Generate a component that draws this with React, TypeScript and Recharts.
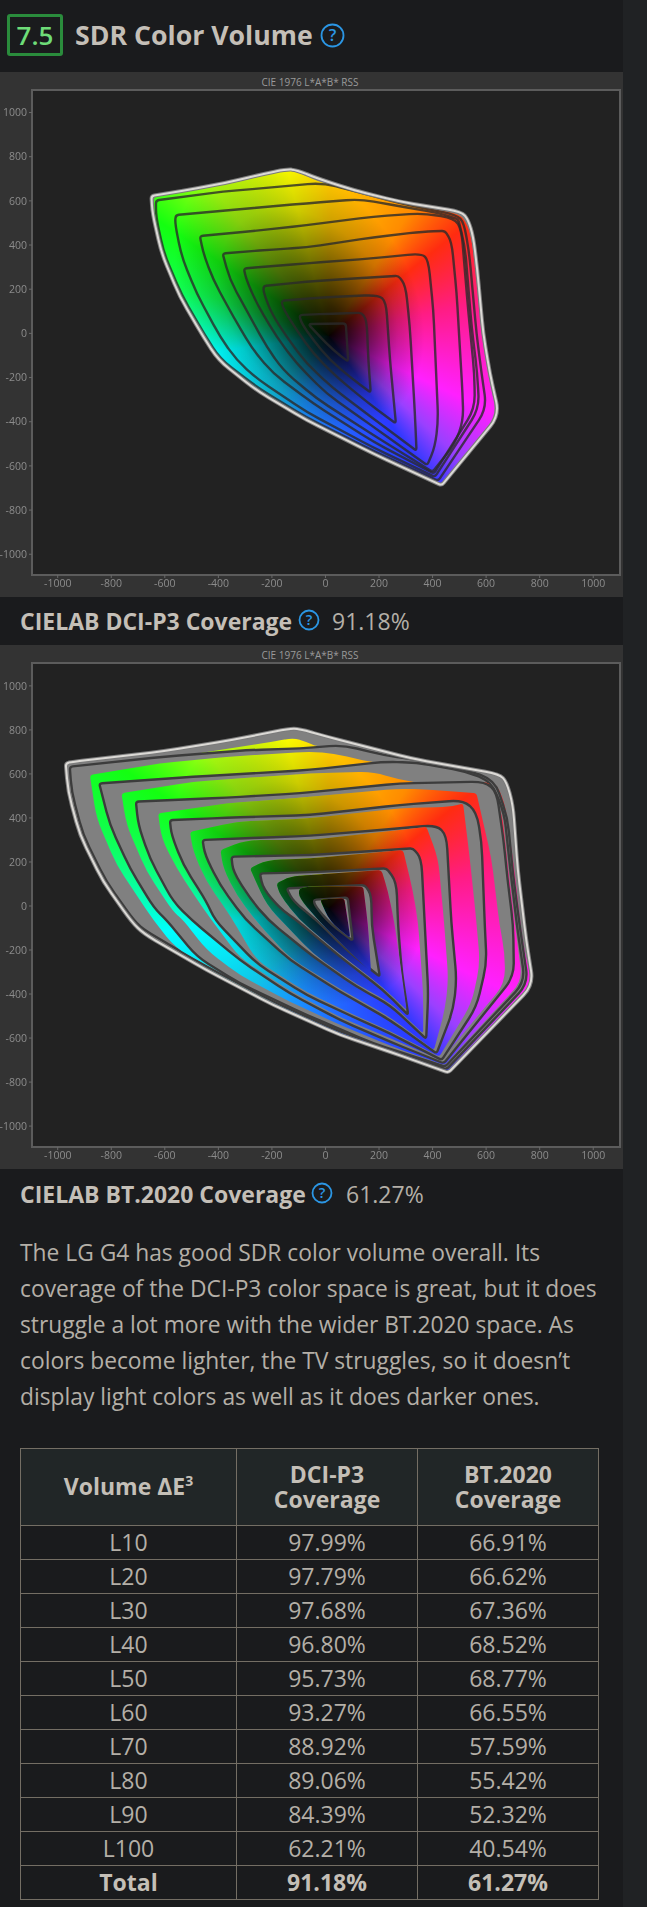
import { CartesianGrid, ReferenceArea, Scatter, ScatterChart, XAxis, YAxis } from "recharts";

type Pt = [number, number];

// a*, b* outlines (CIELAB DCI-P3), outer L100 to inner L10
const p3L100: Pt[] = [[-650,622],[-531,646],[-369,682],[-232,722],[-145,743],[-108,740],[-33,703],[104,649],[278,596],[508,551],[533,514],[552,438],[567,287],[589,0],[614,-182],[649,-371],[434,-688],[179,-545],[-70,-393],[-257,-258],[-400,-121],[-456,-15],[-544,166],[-612,362],[-646,544]];
const p3L90: Pt[] = [[-633,602],[-382,642],[-170,664],[-14,682],[104,646],[278,589],[490,536],[517,502],[537,362],[564,0],[583,-182],[602,-340],[421,-668],[179,-532],[-70,-381],[-257,-242],[-394,-115],[-450,-8],[-537,174],[-603,362],[-633,529]];
const p3L80: Pt[] = [[-559,536],[-320,562],[-71,589],[129,608],[253,581],[428,544],[496,517],[521,392],[546,29],[567,-182],[574,-340],[409,-650],[179,-517],[-70,-356],[-257,-204],[-332,-121],[-394,-15],[-481,181],[-537,347],[-562,498]];
const p3L70: Pt[] = [[-469,441],[-257,465],[-71,490],[179,529],[365,544],[483,521],[508,468],[533,105],[556,-182],[558,-340],[405,-635],[179,-491],[-46,-317],[-195,-182],[-270,-76],[-344,75],[-419,242],[-456,362]];
const p3L60: Pt[] = [[-384,362],[-195,380],[-71,389],[179,435],[365,461],[446,464],[471,416],[490,181],[512,-273],[515,-393],[484,-499],[400,-627],[179,-461],[-33,-295],[-158,-167],[-220,-60],[-295,105],[-357,242]];
const p3L50: Pt[] = [[-305,294],[-71,317],[179,340],[359,362],[384,332],[403,105],[421,-393],[409,-514],[380,-597],[179,-423],[4,-273],[-108,-136],[-183,-15],[-257,136],[-295,242]];
const p3L40: Pt[] = [[-232,214],[-71,234],[116,249],[272,261],[299,218],[315,31],[334,-363],[340,-532],[179,-386],[29,-249],[-71,-136],[-145,-15],[-201,90],[-230,181]];
const p3L30: Pt[] = [[-164,148],[-8,163],[197,174],[226,144],[241,-121],[263,-408],[154,-310],[42,-197],[-46,-91],[-108,15],[-158,113]];
const p3L20: Pt[] = [[-98,83],[29,90],[135,93],[154,60],[160,-121],[169,-268],[91,-197],[17,-121],[-46,-30],[-89,45]];
const p3L10: Pt[] = [[-64,42],[76,45],[85,-128],[29,-76],[-21,-15]];
const p3Measured: Pt[] = [[-640,618],[-531,640],[-369,676],[-232,715],[-145,738],[-108,732],[-33,690],[104,640],[278,590],[500,540],[525,505],[545,435],[560,285],[582,0],[606,-182],[640,-368],[434,-684],[179,-542],[-70,-390],[-257,-255],[-400,-118],[-452,-15],[-540,166],[-606,362],[-640,544]];

// second plot (CIELAB BT.2020): target outlines
const bt2020L100: Pt[] = [[-970,648],[-946,655],[-599,704],[-353,753],[-137,805],[-99,805],[2,770],[325,669],[649,599],[676,564],[700,460],[718,164],[749,-150],[776,-359],[459,-757],[240,-662],[54,-586],[-195,-450],[-444,-291],[-680,-125],[-724,-71],[-830,110],[-917,322],[-961,519]];
const bt2020L90: Pt[] = [[-955,633],[-599,679],[-291,708],[-96,716],[66,731],[215,686],[340,664],[527,618],[632,572],[680,400],[700,150],[725,-86],[757,-352],[452,-742],[240,-647],[54,-571],[-195,-435],[-444,-276],[-672,-112],[-712,-71],[-818,110],[-905,322],[-948,519]];
const bt2020L80: Pt[] = [[-845,557],[-494,587],[-58,618],[215,655],[340,652],[527,610],[620,565],[668,420],[690,170],[715,-86],[745,-345],[447,-730],[178,-624],[-70,-495],[-320,-352],[-481,-230],[-593,-64],[-640,-10],[-730,171],[-805,368]];
const bt2020L70: Pt[] = [[-708,474],[-370,492],[-96,512],[278,557],[595,565],[639,519],[665,300],[680,120],[701,-86],[704,-321],[442,-715],[241,-617],[54,-518],[-133,-397],[-320,-246],[-500,-64],[-569,20],[-656,216],[-699,368]];
const bt2020L60: Pt[] = [[-581,390],[-370,401],[-58,413],[278,459],[514,481],[564,428],[583,292],[595,-86],[602,-261],[564,-458],[434,-700],[241,-579],[116,-511],[-70,-405],[-257,-261],[-413,-64],[-444,20],[-531,186],[-575,322]];
const bt2020L50: Pt[] = [[-459,300],[-245,310],[-58,319],[278,353],[414,368],[452,322],[470,-75],[490,-336],[477,-473],[415,-670],[241,-518],[54,-389],[-133,-246],[-300,-60],[-394,95],[-450,232]];
const bt2020L40: Pt[] = [[-351,224],[-58,231],[327,262],[358,216],[371,-86],[384,-397],[376,-604],[241,-450],[116,-367],[-46,-230],[-214,-64],[-282,35],[-345,156]];
const bt2020L30: Pt[] = [[-245,148],[-58,153],[228,171],[265,110],[271,-86],[285,-300],[309,-495],[216,-382],[54,-230],[-108,-64],[-170,-11],[-233,80]];
const bt2020L20: Pt[] = [[-145,80],[147,95],[172,50],[172,-86],[203,-321],[79,-200],[-33,-64],[-120,20]];
const bt2020L10: Pt[] = [[-45,28],[83,38],[102,-158],[17,-80],[-37,-2]];

// second plot: edge of the coloured part inside each target outline
const measuredL100: Pt[] = [[-531,683],[-183,749],[-120,764],[-71,746],[-30,722],[66,728],[215,683],[340,662],[527,615],[632,570],[670,470],[705,170],[735,-150],[770,-350],[459,-752],[240,-655],[54,-580],[-195,-445],[-444,-288],[-531,-215]];
const measuredL90: Pt[] = [[-880,595],[-619,648],[-370,678],[-58,701],[29,693],[190,648],[340,652],[527,606],[615,560],[662,420],[683,170],[708,-86],[738,-345],[448,-733],[240,-640],[54,-563],[-195,-426],[-444,-268],[-560,-190],[-643,-64],[-780,186],[-855,398]];
const measuredL80: Pt[] = [[-762,512],[-494,565],[-58,602],[178,610],[278,572],[464,542],[576,562],[610,560],[660,420],[682,170],[708,-86],[735,-340],[445,-722],[241,-635],[54,-540],[-133,-435],[-320,-314],[-444,-200],[-531,-64],[-569,-26],[-668,156],[-743,368]];
const measuredL70: Pt[] = [[-625,421],[-370,466],[-58,496],[278,534],[402,527],[564,512],[620,216],[650,-86],[670,-215],[670,-352],[432,-700],[241,-600],[54,-505],[-133,-385],[-320,-235],[-457,-11],[-556,171],[-612,307]];
const measuredL60: Pt[] = [[-506,337],[-332,383],[-58,398],[278,444],[464,451],[514,466],[539,216],[564,-75],[577,-261],[546,-442],[425,-685],[241,-568],[116,-500],[-70,-392],[-257,-248],[-357,-41],[-444,110],[-494,247]];
const measuredL50: Pt[] = [[-392,254],[-295,300],[-58,300],[278,345],[377,360],[421,216],[443,-75],[459,-336],[446,-473],[405,-655],[241,-505],[54,-377],[-133,-235],[-257,-71],[-332,50],[-382,171]];
const measuredL40: Pt[] = [[-282,171],[-220,209],[-58,216],[290,254],[327,65],[346,-75],[365,-397],[365,-579],[241,-438],[116,-355],[-46,-218],[-220,4]];
const measuredL30: Pt[] = [[-183,103],[-133,133],[-58,141],[209,163],[234,65],[259,-86],[303,-473],[216,-370],[54,-218],[-100,-60],[-170,50]];
const measuredL20: Pt[] = [[-98,79],[-50,90],[141,87],[159,-86],[170,-300],[75,-190],[-35,-55],[-100,40]];
const measuredL10: Pt[] = [[-20,30],[70,35],[85,-80],[92,-145],[15,-70]];

const fieldCentre: Pt = [15, -10];

const xTicks = [-1000, -800, -600, -400, -200, 0, 200, 400, 600, 800, 1000];
const yTicks = [1000, 800, 600, 400, 200, 0, -200, -400, -600, -800, -1000];

const p3Rings = [p3L100, p3L90, p3L80, p3L70, p3L60, p3L50, p3L40, p3L30, p3L20, p3L10];
const p3Gamuts = [p3Measured];
const bt2020Rings = [bt2020L100, bt2020L90, bt2020L80, bt2020L70, bt2020L60, bt2020L50, bt2020L40, bt2020L30, bt2020L20, bt2020L10];
const bt2020Gamuts = [measuredL100, measuredL90, measuredL80, measuredL70, measuredL60, measuredL50, measuredL40, measuredL30, measuredL20, measuredL10];

const volumeLabels = ["L10", "L20", "L30", "L40", "L50", "L60", "L70", "L80", "L90", "L100"];
const dciP3Values = ["97.99%", "97.79%", "97.68%", "96.80%", "95.73%", "93.27%", "88.92%", "89.06%", "84.39%", "62.21%"];
const bt2020Values = ["66.91%", "66.62%", "67.36%", "68.52%", "68.77%", "66.55%", "57.59%", "55.42%", "52.32%", "40.54%"];
const totals = ["Total", "91.18%", "61.27%"];

const paragraphLines = [
  "The LG G4 has good SDR color volume overall. Its",
  "coverage of the DCI-P3 color space is great, but it does",
  "struggle a lot more with the wider BT.2020 space. As",
  "colors become lighter, the TV struggles, so it doesn\u2019t",
  "display light colors as well as it does darker ones.",
];

const FONT = "'Open Sans', sans-serif";
const PAGE = "#1a1b1d";
const TEXT = "#c4bfb7";
const HUES =
  "#ffc800 0deg, #ff8c00 33deg, #ff2c10 51deg, #ff1c84 77deg, #ff20ff 115deg, #9a40ff 133deg, #2c38ff 145deg, #1a90ff 198deg, #10c4e8 225deg, #00ffff 262deg, #10ff50 288deg, #14ff10 304deg, #a8ff10 322deg, #ffff00 346deg, #ffc800 360deg";

const toPoints = (ring: Pt[]) => ring.map(([a, b]) => ({ a, b }));
const hidePoint = () => <g />;

// closed path through the scaled points with the corners eased, tips stay tight
const ringPath = (points: { x: number; y: number }[]) => {
  const n = points.length;
  let d = "";
  points.forEach((p, i) => {
    const prev = points[(i + n - 1) % n];
    const next = points[(i + 1) % n];
    const ux = prev.x - p.x;
    const uy = prev.y - p.y;
    const vx = next.x - p.x;
    const vy = next.y - p.y;
    const lu = Math.hypot(ux, uy) || 1;
    const lv = Math.hypot(vx, vy) || 1;
    const cos = (ux * vx + uy * vy) / (lu * lv);
    const r = cos > -0.6 ? 3 : 14;
    const ru = Math.min(r, lu * 0.48);
    const rv = Math.min(r, lv * 0.48);
    d += `${i === 0 ? "M" : "L"}${p.x + (ux / lu) * ru} ${p.y + (uy / lu) * ru}Q${p.x} ${p.y} ${p.x + (vx / lv) * rv} ${p.y + (vy / lv) * rv}`;
  });
  return d + "Z";
};

// closed outline; Scatter hands us the points already run through the scales
const outline = (stroke: string, width: number, fill = "none") => (props: any) => (
  <path d={ringPath(props.points)} fill={fill} stroke={stroke} strokeWidth={width} strokeLinejoin="round" />
);

const clipDef = (id: string) => (props: any) => (
  <clipPath id={id}>
    <path d={ringPath(props.points)} />
  </clipPath>
);

// hue wheel with the darkening towards the neutral centre, clipped to one outline
const colourField = (clip: string) => (props: any) => {
  const { cx, cy } = props;
  const R = 340;
  const dark = `${clip}-dark`;
  return (
    <g clipPath={`url(#${clip})`}>
      <foreignObject x={cx - R} y={cy - R} width={R * 2} height={R * 2}>
        <div style={{ width: R * 2, height: R * 2, background: `conic-gradient(from 0deg at 50% 50%, ${HUES})` }} />
      </foreignObject>
      <radialGradient
        id={dark}
        gradientUnits="userSpaceOnUse"
        cx={0}
        cy={0}
        r={150}
        fx={50}
        fy={0}
        gradientTransform={`translate(${cx - 30} ${cy - 40}) rotate(53) scale(1 0.72)`}
      >
        <stop offset="0" stopColor="#000" stopOpacity={0.97} />
        <stop offset="0.2" stopColor="#000" stopOpacity={0.8} />
        <stop offset="0.45" stopColor="#000" stopOpacity={0.52} />
        <stop offset="0.72" stopColor="#000" stopOpacity={0.2} />
        <stop offset="1" stopColor="#000" stopOpacity={0} />
      </radialGradient>
      <rect x={cx - R} y={cy - R} width={R * 2} height={R * 2} fill={`url(#${dark})`} />
    </g>
  );
};

function Plot({ name, rings, gamuts, filled, height, domainY }: { name: string; rings: Pt[][]; gamuts: Pt[][]; filled: boolean; height: number; domainY: [number, number] }) {
  const tickStyle = { fill: "#8c8c8c", fontSize: 10.5, fontFamily: FONT };
  const axisLine = { stroke: "#5c5c5c", strokeWidth: 2 };
  const tickLine = { stroke: "#6a6a6a" };
  return (
    <ScatterChart width={623} height={height} margin={{ top: 18, right: 3, bottom: 0, left: 0 }}>
      <CartesianGrid fill="#222222" fillOpacity={1} horizontal={false} vertical={false} />
      <XAxis type="number" dataKey="a" domain={[-1096, 1100]} ticks={xTicks} interval={0} height={22} tickSize={3} tickMargin={2} tick={tickStyle} axisLine={axisLine} tickLine={tickLine} />
      <YAxis type="number" dataKey="b" domain={domainY} ticks={yTicks} interval={0} width={32} tickSize={3} tickMargin={2} tick={tickStyle} axisLine={axisLine} tickLine={tickLine} />
      <ReferenceArea x1={-1096} x2={1100} y1={domainY[0]} y2={domainY[1]} fill="none" stroke="#5c5c5c" strokeWidth={2} />
      {rings.flatMap((ring, i) => {
        const clip = `${name}-clip-${i}`;
        const items = [];
        if (i === 0 || filled) {
          items.push(
            <Scatter key={`r${i}`} data={toPoints(ring)} line={outline("#3c3c3c", 2.4, "#808080")} shape={hidePoint} isAnimationActive={false} />,
          );
        }
        if (gamuts[i]) {
          items.push(
            <Scatter key={`c${i}`} data={toPoints(gamuts[i])} line={clipDef(clip)} shape={hidePoint} isAnimationActive={false} />,
            <Scatter key={`f${i}`} data={toPoints([fieldCentre])} shape={colourField(clip)} isAnimationActive={false} />,
          );
        }
        return items;
      })}
      {!filled &&
        rings.slice(1).map((ring, i) => (
          <Scatter key={`o${i}`} data={toPoints(ring)} line={outline("rgba(42,42,42,0.8)", 2.4)} shape={hidePoint} isAnimationActive={false} />
        ))}
      <Scatter key="outer-grey" data={toPoints(rings[0])} line={outline("#7c7c7c", 4)} shape={hidePoint} isAnimationActive={false} />
      <Scatter key="outer-white" data={toPoints(rings[0])} line={outline("#dcdad6", 2)} shape={hidePoint} isAnimationActive={false} />
    </ScatterChart>
  );
}

function HelpIcon({ x, y, r }: { x: number; y: number; r: number }) {
  return (
    <svg width={r * 2 + 2} height={r * 2 + 2} style={{ position: "absolute", left: x - r - 1, top: y - r - 1 }}>
      <circle cx={r + 1} cy={r + 1} r={r - 0.5} fill="none" stroke="#2b96e4" strokeWidth={1.8} />
      <text x={r + 1} y={r + 1 + r * 0.5} textAnchor="middle" fontFamily={FONT} fontWeight={600} fontSize={r * 1.45} fill="#2b96e4">?</text>
    </svg>
  );
}

function PlotTitle({ top }: { top: number }) {
  return (
    <div style={{ position: "absolute", left: 0, width: 620, top, textAlign: "center", font: `10px ${FONT}`, color: "#9a9a9a" }}>
      CIE 1976 L*A*B* RSS
    </div>
  );
}

function Caption({ top, label, value, iconX, valueX }: { top: number; label: string; value: string; iconX: number; valueX: number }) {
  return (
    <>
      <div style={{ position: "absolute", left: 20, top: top - 16, lineHeight: "32px", fontSize: 23, fontWeight: 700, color: TEXT, whiteSpace: "nowrap" }}>{label}</div>
      <HelpIcon x={iconX} y={top - 1} r={10} />
      <div style={{ position: "absolute", left: valueX, top: top - 16, lineHeight: "32px", fontSize: 23, color: "#b4afa7", whiteSpace: "nowrap" }}>{value}</div>
    </>
  );
}

const cell = { border: "1px solid #746e64", padding: 0, textAlign: "center" as const, color: "#b4afa7", fontSize: 23, height: 33, lineHeight: "33px" };
const headCell = { ...cell, background: "#212627", color: TEXT, fontWeight: 700, lineHeight: "25.5px", height: 76 };

export default function App() {
  return (
    <div style={{ position: "absolute", left: 0, top: 0, width: 647, height: 1907, background: "#202224", overflow: "hidden", fontFamily: FONT }}>
      <div style={{ position: "absolute", left: 0, top: 0, width: 623, height: 1907, background: PAGE }} />

      <div style={{ position: "absolute", left: 7, top: 14, width: 50, height: 36, border: "3px solid #2a8c3c", borderRadius: 3, textAlign: "center", lineHeight: "37px", fontSize: 26, fontWeight: 600, color: "#6edc78" }}>7.5</div>
      <div style={{ position: "absolute", left: 75, top: 14, lineHeight: "42px", fontSize: 26.7, fontWeight: 700, color: TEXT, whiteSpace: "nowrap" }}>SDR Color Volume</div>
      <HelpIcon x={332} y={35} r={11.5} />

      <div style={{ position: "absolute", left: 0, top: 72, width: 623, height: 525, background: "#333333", filter: "blur(0.4px)" }}>
        <Plot name="p3" rings={p3Rings} gamuts={p3Gamuts} filled={false} height={525} domainY={[-1094, 1102]} />
      </div>
      <PlotTitle top={75} />
      <Caption top={621} label="CIELAB DCI-P3 Coverage" value="91.18%" iconX={309} valueX={332} />

      <div style={{ position: "absolute", left: 0, top: 645, width: 623, height: 524, background: "#333333", filter: "blur(0.4px)" }}>
        <Plot name="bt" rings={bt2020Rings} gamuts={bt2020Gamuts} filled height={524} domainY={[-1095, 1104]} />
      </div>
      <PlotTitle top={648} />
      <Caption top={1194} label="CIELAB BT.2020 Coverage" value="61.27%" iconX={322} valueX={346} />

      {paragraphLines.map((line, i) => (
        <div key={i} style={{ position: "absolute", left: 20, top: 1235 + i * 36, lineHeight: "36px", fontSize: 22.8, color: "#b4afa7", whiteSpace: "nowrap" }}>{line}</div>
      ))}

      <table style={{ position: "absolute", left: 20, top: 1448, width: 579, tableLayout: "fixed", borderCollapse: "collapse", fontFamily: FONT }}>
        <colgroup>
          <col style={{ width: 216 }} />
          <col style={{ width: 181 }} />
          <col style={{ width: 181 }} />
        </colgroup>
        <thead>
          <tr>
            <th style={headCell}>Volume {"\u0394"}E<sup style={{ fontSize: 14, lineHeight: 0 }}>3</sup></th>
            <th style={headCell}>DCI-P3<br />Coverage</th>
            <th style={headCell}>BT.2020<br />Coverage</th>
          </tr>
        </thead>
        <tbody>
          {volumeLabels.map((label, i) => (
            <tr key={label}>
              <td style={cell}>{label}</td>
              <td style={cell}>{dciP3Values[i]}</td>
              <td style={cell}>{bt2020Values[i]}</td>
            </tr>
          ))}
          <tr>
            {totals.map((t) => (
              <td key={t} style={{ ...cell, fontWeight: 700, color: TEXT }}>{t}</td>
            ))}
          </tr>
        </tbody>
      </table>
    </div>
  );
}
